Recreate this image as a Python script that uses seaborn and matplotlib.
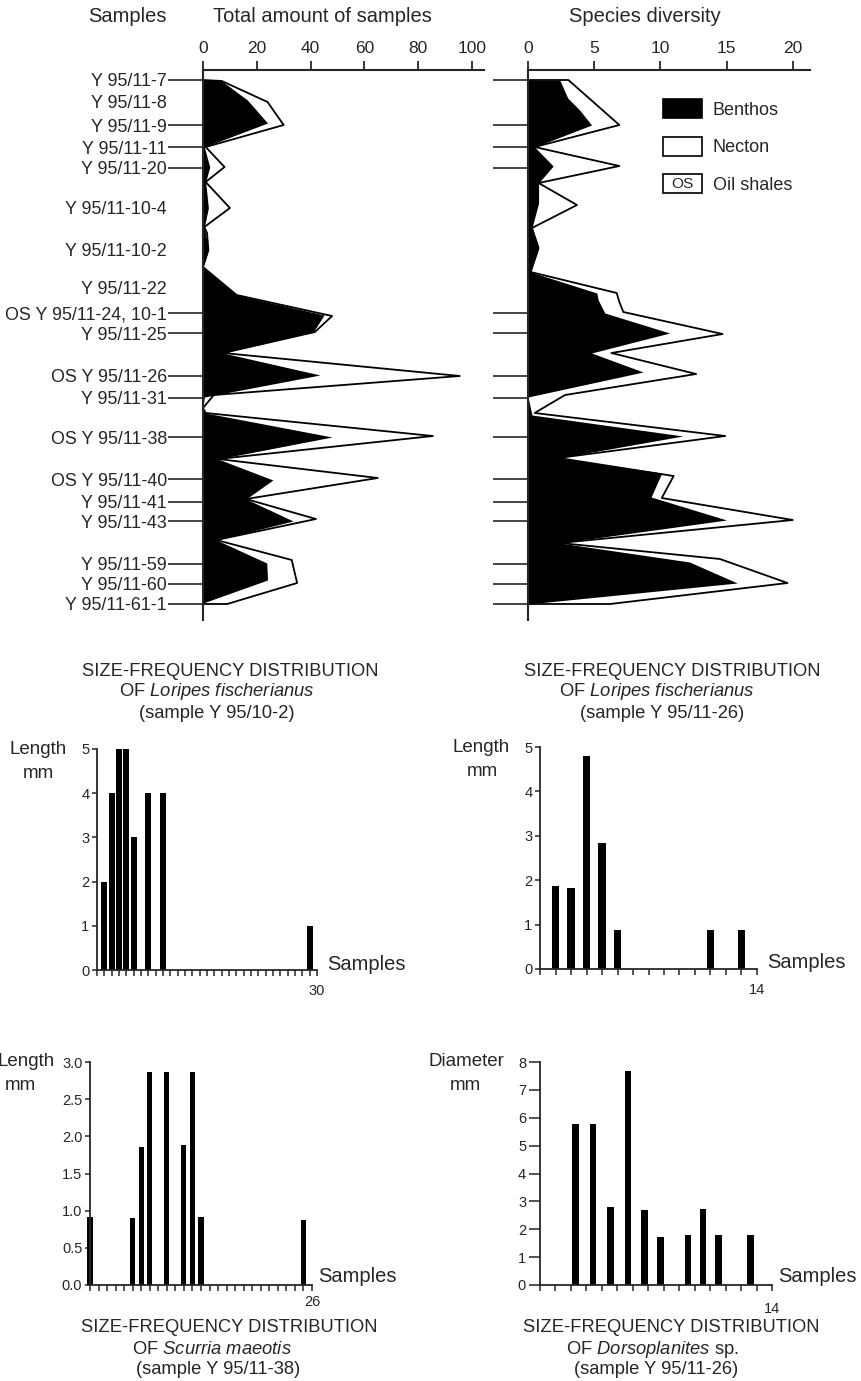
import numpy as np
import matplotlib
matplotlib.use('Agg')
import matplotlib.pyplot as plt
from matplotlib.patches import Patch, Rectangle
from matplotlib.legend_handler import HandlerBase
from matplotlib.text import Text
import seaborn as sns

# ---- data: sample column (position below the top axis line) ----
samples = ['Y 95/11-7', 'Y 95/11-8', 'Y 95/11-9', 'Y 95/11-11', 'Y 95/11-20',
           'Y 95/11-10-4', 'Y 95/11-10-2', 'Y 95/11-22', 'OS Y 95/11-24, 10-1',
           'Y 95/11-25', 'OS Y 95/11-26', 'Y 95/11-31', 'OS Y 95/11-38',
           'OS Y 95/11-40', 'Y 95/11-41', 'Y 95/11-43', 'Y 95/11-59',
           'Y 95/11-60', 'Y 95/11-61-1']
sample_pos = [10, 32, 55, 77, 98, 138, 180, 217, 243, 263, 306, 328, 367,
              409, 432, 451, 494, 514, 534]
no_tick = ['Y 95/11-8', 'Y 95/11-10-4', 'Y 95/11-10-2', 'Y 95/11-22']

# total amount of samples (benthos + necton outline)
total_pos = [10, 11, 32, 55, 77, 97, 112, 138, 157, 163, 180, 197, 225, 246,
             262, 283, 306, 325, 338, 343, 366, 389, 408, 429, 449, 470, 490,
             513, 534, 534]
total_amount = [0, 7, 24, 30, 1, 8, 1, 10, 0.5, 1.5, 2, 0, 12.5, 48, 41.6,
                7.5, 95.5, 4, 0, 1, 85.5, 5.6, 65, 16, 42, 5, 33, 35, 9, 0]
# benthos only
benthos_pos = [10, 10, 30, 53, 77, 97, 112, 138, 157, 180, 197, 225, 245, 262,
               283, 305, 327, 338, 343, 367, 389, 410, 429, 451, 470, 493, 510,
               533]
benthos_amount = [0, 6.5, 16.5, 24, 0.5, 2.5, 1, 2, 0.5, 2, 0, 12.5, 45, 41,
                  7.5, 43.5, 0.5, 0, 1, 48, 5.6, 26, 16, 33.5, 5, 23.7, 24, 0]

# species diversity (benthos + necton outline)
div_total_pos = [10, 10, 55, 77, 96, 113, 135, 158, 178, 202, 223, 232, 242,
                 264, 283, 304, 325, 343, 366, 388, 406, 428, 450, 473, 489,
                 513, 534, 534]
div_total = [0, 3.05, 6.9, 0.5, 6.9, 0.8, 3.7, 0.3, 0.8, 0.2, 6.7, 6.9, 7.2,
             14.7, 6.3, 12.7, 2.8, 0.5, 14.9, 2.3, 11, 10.1, 20, 2.4, 14.5,
             19.6, 6.2, 0]
div_benthos_pos = [10, 10, 28, 40, 55, 77, 96, 113, 133, 158, 178, 202, 223,
                   230, 243, 263, 283, 302, 327, 345, 366, 388, 403, 427, 450,
                   473, 492, 513, 534]
div_benthos = [0, 2.4, 3.0, 3.9, 4.8, 0.5, 1.9, 0.8, 0.8, 0.3, 0.8, 0.2, 5.2,
               5.3, 5.8, 10.7, 4.8, 8.7, 0, 0.3, 11.7, 2.3, 10.1, 9.3, 15, 2.4,
               12.2, 15.8, 0]

# size-frequency distributions
lf102_sample = [1, 2, 3, 4, 5, 7, 9, 29]
lf102_length = [2, 4, 5, 5, 3, 4, 4, 1]
lf1126_sample = [1, 2, 3, 4, 5, 11, 13]
lf1126_length = [1.87, 1.83, 4.8, 2.83, 0.88, 0.88, 0.88]
sm_sample = [0, 5, 6, 7, 9, 11, 12, 13, 25]
sm_length = [0.92, 0.9, 1.86, 2.87, 2.87, 1.89, 2.87, 0.92, 0.88]
dors_sample = [2.3, 3.42, 4.54, 5.68, 6.76, 7.77, 9.58, 10.55, 11.52, 13.61]
dors_diameter = [5.77, 5.77, 2.81, 7.69, 2.69, 1.71, 1.8, 2.73, 1.8, 1.8]

species = ['$\\mathit{Loripes\\ fischerianus}$', '$\\mathit{Loripes\\ fischerianus}$',
           '$\\mathit{Scurria\\ maeotis}$', '$\\mathit{Dorsoplanites}$ sp.']
sample_names = ['(sample Y 95/10-2)', '(sample Y 95/11-26)',
                '(sample Y 95/11-38)', '(sample Y 95/11-26)']

sns.set_theme(style='ticks')
plt.rcParams['font.family'] = ['Liberation Sans', 'DejaVu Sans']
plt.rcParams['mathtext.fontset'] = 'custom'
plt.rcParams['mathtext.rm'] = 'Liberation Sans'
plt.rcParams['mathtext.it'] = 'Liberation Sans:italic'

W, H = 861, 1381
fig = plt.figure(figsize=(W / 100, H / 100), dpi=100)


def px_axes(x0, y0, x1, y1):
    return fig.add_axes([x0 / W, 1 - y1 / H, (x1 - x0) / W, (y1 - y0) / H])


def ftext(x, y, s, **kw):
    kw.setdefault('va', 'center')
    kw.setdefault('ha', 'center')
    fig.text(x / W, 1 - y / H, s, **kw)


def profile_axes(ax, xmax, xticks, labels):
    ax.set_ylim(550, 0)
    ax.set_xlim(0, xmax)
    ax.xaxis.tick_top()
    ax.set_xticks(xticks)
    ax.set_xlabel('')
    ax.set_ylabel('')
    for s in ['right', 'bottom']:
        ax.spines[s].set_visible(False)
    for s in ['top', 'left']:
        ax.spines[s].set_linewidth(1.5)
    ax.tick_params(axis='x', direction='out', length=6.5, width=1.3, pad=3.5,
                   labelsize=12.5)
    ax.set_yticks(sample_pos)
    ax.set_yticklabels(samples if labels else [])
    ax.tick_params(axis='y', direction='out', length=25.5, width=1.2, pad=0.5,
                   labelsize=12.9)
    for t, name in zip(ax.yaxis.get_major_ticks(), samples):
        if name in no_tick:
            t.tick1line.set_visible(False)


# ---- top left: total amount ----
ax1 = px_axes(203, 70, 484, 620)
ax1.fill_betweenx(benthos_pos, 0, benthos_amount, color='black', lw=0)
sns.lineplot(x=total_amount, y=total_pos, sort=False, estimator=None,
             orient='y', color='black', lw=1.3, ax=ax1)
profile_axes(ax1, 104.5, [0, 20, 40, 60, 80, 100], True)

# ---- top right: species diversity ----
ax2 = px_axes(528, 70, 810, 620)
ax2.fill_betweenx(div_benthos_pos, 0, div_benthos, color='black', lw=0)
sns.lineplot(x=div_total, y=div_total_pos, sort=False, estimator=None,
             orient='y', color='black', lw=1.3, ax=ax2)
profile_axes(ax2, 21.3, [0, 5, 10, 15, 20], False)

ftext(127, 16, 'Samples', fontsize=14.5)
ftext(322, 16, 'Total amount of samples', fontsize=14.5)
ftext(645, 16, 'Species diversity', fontsize=14.5)


class HandlerOS(HandlerBase):
    def create_artists(self, legend, orig_handle, xdescent, ydescent, width,
                       height, fontsize, trans):
        r = Rectangle((-xdescent, -ydescent), width, height, facecolor='white',
                      edgecolor='black', lw=1.2, transform=trans)
        t = Text(-xdescent + width / 2, -ydescent + height / 2, 'OS',
                 ha='center', va='center', fontsize=fontsize * 0.85,
                 transform=trans)
        return [r, t]


h_b = Patch(facecolor='black', edgecolor='black', lw=1.2, label='Benthos')
h_n = Patch(facecolor='white', edgecolor='black', lw=1.2, label='Necton')
h_os = Patch(facecolor='white', edgecolor='black', label='Oil shales')
ax2.legend(handles=[h_b, h_n, h_os], handler_map={h_os: HandlerOS()},
           loc='upper left', bbox_to_anchor=(663 / W, 1 - 99 / H),
           bbox_transform=fig.transFigure, frameon=False, fontsize=13,
           handlelength=2.15, handleheight=1.25, labelspacing=1.0,
           handletextpad=0.6, borderpad=0, borderaxespad=0)


# ---- size-frequency histograms ----
def hist_axes(box, xs, ys, xmax, last_label, ymax, yticks, ylabels, bar_w,
              ytick_len=3.5, label_pad=6):
    ax = px_axes(*box)
    step = np.diff(np.sort(xs)).min()
    sns.barplot(x=xs, y=ys, native_scale=True, orient='x', color='black',
                saturation=1, width=bar_w / step, errorbar=None, ax=ax,
                linewidth=0)
    for p in ax.patches:
        p.set_clip_on(False)
    ax.set_xlim(0, xmax)
    ax.set_ylim(0, ymax)
    ticks = np.arange(0, int(round(xmax)) + 1)
    ax.set_xticks(ticks)
    ax.set_xticklabels([''] * (len(ticks) - 1) + [last_label])
    ax.set_yticks(yticks)
    ax.set_yticklabels(ylabels)
    ax.tick_params(axis='x', direction='out', length=4, width=1.1, pad=label_pad,
                   labelsize=10.5)
    ax.tick_params(axis='y', direction='out', length=ytick_len, width=1.1,
                   pad=2, labelsize=10.5)
    for s in ['right', 'top']:
        ax.spines[s].set_visible(False)
    for s in ['left', 'bottom']:
        ax.spines[s].set_linewidth(1.3)
    ax.set_xlabel('')
    ax.set_ylabel('')
    return ax


hist_axes((97, 749, 317, 970), lf102_sample, lf102_length, 30, '30', 5,
          range(6), [str(v) for v in range(6)], 0.82)
hist_axes((540, 747, 757, 969), lf1126_sample, lf1126_length, 14, '14', 5,
          range(6), [str(v) for v in range(6)], 0.47)
hist_axes((90, 1062, 312, 1285), sm_sample, sm_length, 26, '26', 3,
          np.arange(0, 3.01, 0.5), [f'{v:.1f}' for v in np.arange(0, 3.01, 0.5)],
          0.6, label_pad=3)
hist_axes((540, 1062, 772, 1285), dors_sample, dors_diameter, 15, '14', 8,
          range(9), [str(v) for v in range(9)], 0.43, ytick_len=8, label_pad=8)

# titles / captions: (x line1, y line1, x line2, x line3)
caption_pos = [(230, 671, 217, 217), (672, 671, 657, 662),
               (229, 1328, 212, 218), (671, 1328, 652, 656)]
for (x1, y1, x2, x3), sp, nm in zip(caption_pos, species, sample_names):
    ftext(x1, y1, 'SIZE-FREQUENCY DISTRIBUTION', fontsize=13.2)
    ftext(x2, y1 + 21, 'OF ' + sp, fontsize=13.2)
    ftext(x3, y1 + 42, nm, fontsize=13.2)

# axis labels of histograms
for x, y, s in [(38, 749, 'Length'), (38, 773, 'mm'), (481, 747, 'Length'),
                (482, 772, 'mm'), (26, 1062, 'Length'), (20, 1085, 'mm'),
                (466, 1062, 'Diameter'), (465, 1085, 'mm')]:
    ftext(x, y, s, fontsize=13.5)
for x, y in [(327, 965), (767, 962), (318, 1277), (778, 1277)]:
    ftext(x, y, 'Samples', fontsize=14.5, ha='left')

fig.savefig('out.png', dpi=100)
